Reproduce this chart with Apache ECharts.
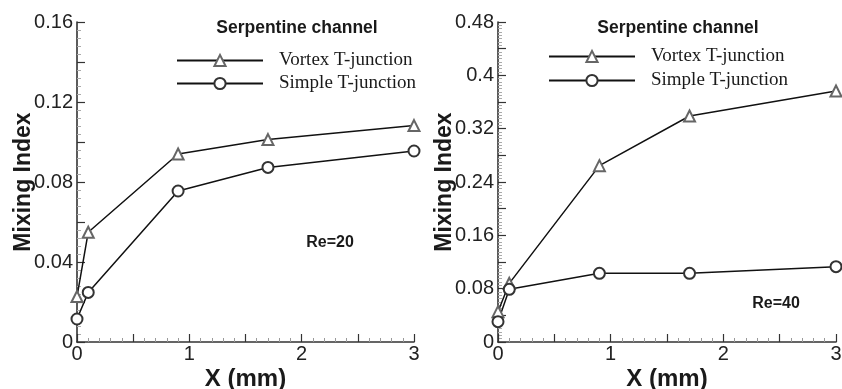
<!DOCTYPE html>
<html>
<head>
<meta charset="utf-8">
<script src="https://cdn.jsdelivr.net/npm/echarts@6/dist/echarts.min.js"></script>
<style>html,body{margin:0;padding:0;background:#fff;}#c{width:842px;height:389px;}</style>
</head>
<body>
<div id="c"></div>
<script>
const xValues = [0, 0.1, 0.9, 1.7, 3];
const vortexRe20 = [0.0227, 0.0549, 0.094, 0.1012, 0.1082];
const simpleRe20 = [0.0115, 0.0248, 0.0755, 0.0873, 0.0955];
const vortexRe40 = [0.0455, 0.088, 0.2645, 0.339, 0.3765];
const simpleRe40 = [0.0305, 0.079, 0.103, 0.103, 0.113];
const xTickLabels = ['0', '1', '2', '3'];
const yTickLabelsRe20 = ['0', '0.04', '0.08', '0.12', '0.16'];
const yTickLabelsRe40 = ['0', '0.08', '0.16', '0.24', '0.32', '0.4', '0.48'];
const seriesNames = ['Vortex T-junction', 'Simple T-junction'];

const pair = (xs, ys) => xs.map((x, i) => [x, ys[i]]);
const fmt = (v) => String(+v.toFixed(3));
const pick = (labels) => (v) => labels.indexOf(fmt(v)) >= 0 ? fmt(v) : '';

const labelFont = { fontFamily: 'Liberation Sans', fontSize: 20, color: '#222' };

function xAxis(gi) {
  return {
    type: 'value', gridIndex: gi, min: 0, max: 3, interval: 0.5,
    name: 'X (mm)', nameLocation: 'middle', nameGap: 25, nameMoveOverlap: false,
    nameTextStyle: { fontFamily: 'Liberation Sans', fontWeight: 'bold', fontSize: 24, color: '#1a1a1a' },
    axisLine: { show: true, lineStyle: { color: '#333', width: 1.6 } },
    axisTick: { show: true, inside: true, length: 8, lineStyle: { color: '#333', width: 1.2 } },
    minorTick: { show: true, splitNumber: 5, length: 4, lineStyle: { color: '#999', width: 1 } },
    splitLine: { show: false },
    axisLabel: Object.assign({ margin: 2, formatter: pick(xTickLabels) }, labelFont)
  };
}
function yAxis(gi, max, interval, minorSplit, labels) {
  return {
    type: 'value', gridIndex: gi, min: 0, max: max, interval: interval,
    name: 'Mixing Index', nameLocation: 'middle', nameGap: 42, nameMoveOverlap: false,
    nameTextStyle: { fontFamily: 'Liberation Sans', fontWeight: 'bold', fontSize: 23, color: '#1a1a1a' },
    axisLine: { show: true, onZero: false, lineStyle: { color: '#333', width: 1.6 } },
    axisTick: { show: true, inside: true, length: 8, lineStyle: { color: '#333', width: 1.2 } },
    minorTick: { show: true, splitNumber: minorSplit, length: 4, lineStyle: { color: '#aaa', width: 1 } },
    splitLine: { show: false },
    axisLabel: Object.assign({ margin: 4, formatter: pick(labels) }, labelFont)
  };
}
function lineSeries(name, gi, data, symbol, symColor) {
  return {
    name: name, type: 'line', xAxisIndex: gi, yAxisIndex: gi,
    data: data, symbol: symbol, symbolSize: 11,
    showAllSymbol: true, animation: false,
    lineStyle: { color: '#111', width: 1.5 },
    itemStyle: { color: symColor, borderColor: symColor, borderWidth: 0.9 }
  };
}
function legend(left, top, gap) {
  return {
    data: seriesNames, orient: 'vertical', left: left, top: top, padding: 0,
    itemWidth: 86, itemHeight: 14, itemGap: gap, selectedMode: false,
    textStyle: { fontFamily: 'Liberation Serif', fontSize: 19, color: '#1a1a1a', padding: [0, 0, 0, 11] }
  };
}
const titleStyle = (size) => ({ fontFamily: 'Liberation Sans', fontWeight: 'bold', fontSize: size, color: '#1a1a1a' });

const chart = echarts.init(document.getElementById('c'), null, { renderer: 'canvas' });
chart.setOption({
  backgroundColor: '#fff',
  animation: false,
  title: [
    { text: 'Serpentine channel', left: 297, top: 19, textAlign: 'center', padding: 0, textStyle: titleStyle(17.5) },
    { text: 'Serpentine channel', left: 678, top: 19, textAlign: 'center', padding: 0, textStyle: titleStyle(17.5) },
    { text: 'Re=20', left: 330, top: 235, textAlign: 'center', padding: 0, textStyle: titleStyle(16) },
    { text: 'Re=40', left: 776, top: 296, textAlign: 'center', padding: 0, textStyle: titleStyle(16) }
  ],
  legend: [legend(176, 51, 4), legend(548, 47, 5)],
  grid: [
    { left: 77, right: 428, top: 22, bottom: 47, outerBoundsMode: 'none' },
    { left: 498, right: 6, top: 22, bottom: 47, outerBoundsMode: 'none' }
  ],
  xAxis: [xAxis(0), xAxis(1)],
  yAxis: [yAxis(0, 0.16, 0.02, 5, yTickLabelsRe20), yAxis(1, 0.48, 0.04, 8, yTickLabelsRe40)],
  series: [
    lineSeries(seriesNames[0], 0, pair(xValues, vortexRe20), 'emptyTriangle', '#666'),
    lineSeries(seriesNames[1], 0, pair(xValues, simpleRe20), 'emptyCircle', '#333'),
    lineSeries(seriesNames[0], 1, pair(xValues, vortexRe40), 'emptyTriangle', '#666'),
    lineSeries(seriesNames[1], 1, pair(xValues, simpleRe40), 'emptyCircle', '#333')
  ]
});
</script>
</body>
</html>
